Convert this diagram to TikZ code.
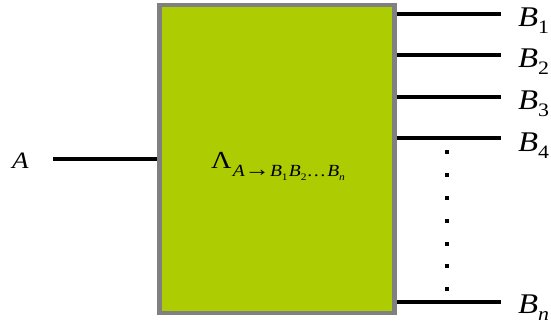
\documentclass[tikz,border=0pt]{standalone}
\usepackage{fontspec}
\setmainfont{Liberation Serif}
\definecolor{boxfill}{RGB}{174,204,2}
\definecolor{boxline}{RGB}{128,128,128}
\newcommand\lowtxt[3]{\raisebox{-#1pt}{\fontsize{#2}{#2}\selectfont #3}}
\newcommand\wide[1]{\scalebox{1.15}[1]{#1}}
\tikzset{
  chan/.style={line width=3.6pt, draw=black},
  bigbox/.style={rectangle, draw=boxline, fill=boxfill, line width=4.5pt,
    minimum width=235pt, minimum height=308pt, inner sep=0pt},
  blabel/.style={anchor=base west, inner sep=0pt, font=\fontsize{28.5}{28.5}\selectfont},
  dotmark/.style={rectangle, fill=black, minimum size=4pt, inner sep=0pt}
}
\begin{document}
\begin{tikzpicture}[x=1pt,y=-1pt]
\useasboundingbox (0,0) rectangle (551,323);
\node[bigbox] (box) at (277,159) {};
% input
\coordinate (ain) at (53,159);
\draw[chan] (ain) -- (box.west);
\node[anchor=base west, inner sep=0pt, font=\fontsize{23.5}{23.5}\selectfont] (alab) at (12,168) {\wide{\textit{A}}};
% outputs
\coordinate (e1) at (501,14);
\coordinate (e2) at (501,55);
\coordinate (e3) at (501,97);
\coordinate (e4) at (501,138);
\coordinate (en) at (501,302);
\foreach \c in {e1,e2,e3,e4,en}{
  \draw[chan] (box.east |- \c) -- (\c);
}
\node[blabel] (b1) at (518,27) {\wide{\textit{B}\lowtxt{7}{19}{1}}};
\node[blabel] (b2) at (518,68) {\wide{\textit{B}\lowtxt{7}{19}{2}}};
\node[blabel] (b3) at (518,110) {\wide{\textit{B}\lowtxt{7}{19}{3}}};
\node[blabel] (b4) at (518,152) {\wide{\textit{B}\lowtxt{7}{19}{4}}};
\node[blabel] (bn) at (518,313) {\wide{\textit{B}\lowtxt{7}{19}{\textit{n}}}};
% dots
\foreach \y [count=\i] in {152,175,198,221,244,266,289}{
  \node[dotmark] (d\i) at (447,\y) {};
}
% label
\node[anchor=base west, inner sep=0pt, font=\fontsize{24.5}{24.5}\selectfont] (lam) at (211,169)
  {\wide{Λ\kern1pt\raisebox{-8pt}{\fontsize{17}{17}\selectfont\itshape A\upshape\raisebox{0.5pt}{\fontsize{22}{22}\selectfont →}\itshape B\lowtxt{4}{10}{\upshape 1}\kern1pt B\lowtxt{4}{10}{\upshape 2}\upshape…\kern1pt\itshape B\lowtxt{4}{10}{n}}}};
\end{tikzpicture}
\end{document}
